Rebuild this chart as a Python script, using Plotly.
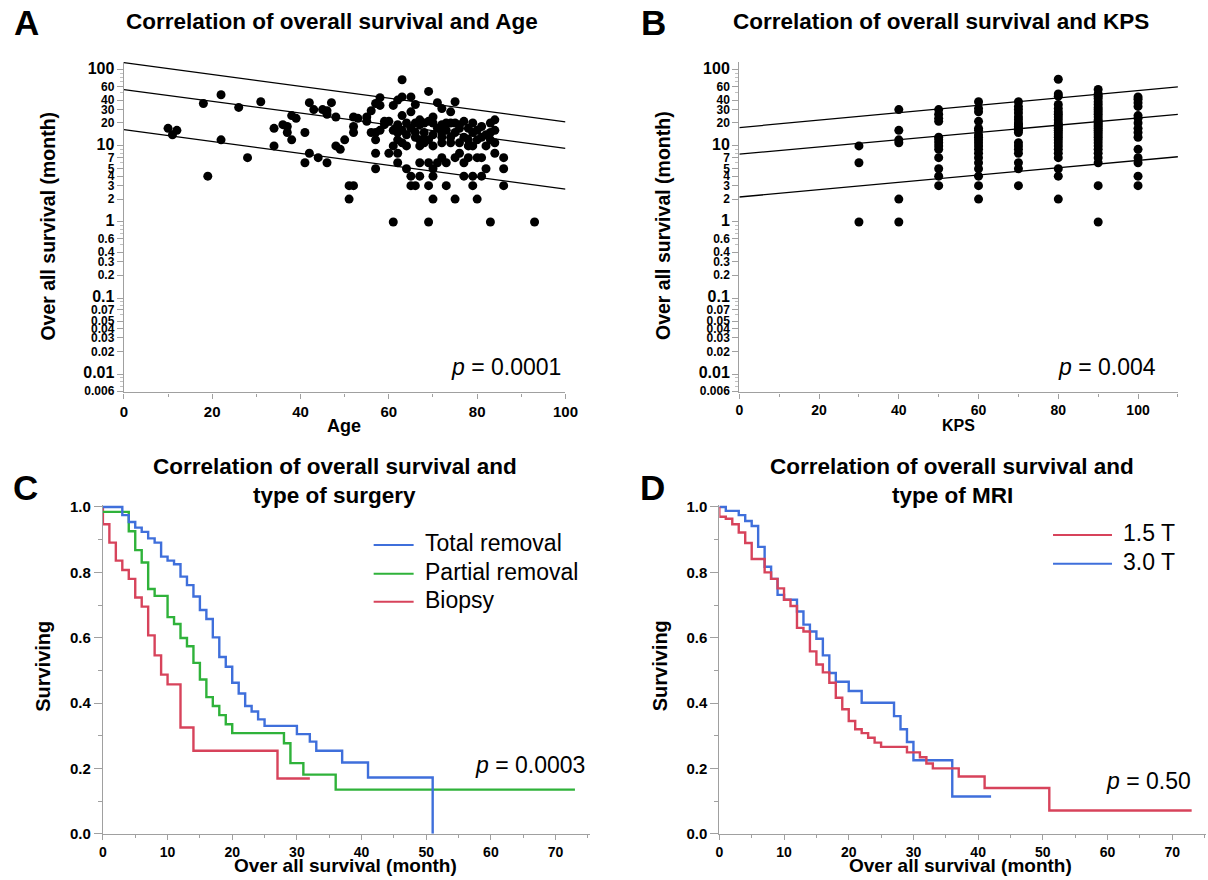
import plotly.graph_objects as go

# measured mapping between page pixels and the photographed picture
SHOT_SCALE = 0.987
SHOT_OFF = 3.0
W, H = 1222, 889
F = "Liberation Sans, Arial, sans-serif"

def page(t):
    return (t - SHOT_OFF) / SHOT_SCALE

def px(x):
    return page(x) / W

def py(y):
    return 1 - page(y) / H

# ---------------- Panel A data: Age vs overall survival ----------------
age_vals = [10, 11, 12, 18, 19, 22, 22, 26, 28, 31, 34, 34, 36, 37, 37, 38, 39, 38, 41, 41,
            42, 43, 42, 44, 45, 46, 46, 47, 46, 48, 48, 49, 50, 51, 51,
            52, 52, 52, 52, 53, 55, 55, 56, 56, 57, 57, 57, 57, 57, 58, 58, 58, 59, 59,
            60, 60, 61, 61, 61, 61, 62, 62, 62, 62, 62, 63, 63, 63, 63, 64, 64, 64,
            65, 65, 65, 65, 66, 66, 66, 66, 67, 67, 67, 67, 67, 68, 68, 68,
            69, 69, 69, 69, 69, 69, 70, 70, 70, 70, 70, 71, 71, 72, 72, 72, 72, 72,
            73, 73, 73, 74, 74, 74, 75, 75, 75, 75, 76, 76, 76, 77, 77, 77, 78, 78,
            79, 79, 79, 79, 80, 80, 80, 81, 81, 81, 82, 82, 83, 83, 83, 84, 84, 84,
            86, 86, 86, 93,
            65, 66, 68, 70, 71, 72, 73, 74, 76, 77, 78, 79, 80, 81, 82, 83, 84, 62, 63, 64,
            67, 70, 75, 78]
age_os = [17, 14, 16, 36, 4, 47, 12, 32, 7, 38, 17, 10, 19, 18, 15, 25, 23, 12, 15, 6,
          37, 30, 8, 7, 30, 29, 26, 37, 6, 24, 10, 9, 12, 3, 2,
          3, 24, 18, 15, 23, 24, 21, 29, 15, 36, 15, 12, 8, 5, 43, 34, 16, 21, 19,
          21, 8, 34, 16, 10, 1, 40, 19, 12, 8, 6, 74, 44, 25, 16, 10, 5, 20,
          44, 28, 4, 3, 35, 20, 15, 3, 19, 12, 10, 6, 4, 20, 15, 11,
          52, 21, 12, 6, 3, 1, 20, 10, 5, 4, 2, 37, 6, 31, 19, 15, 11, 7,
          16, 6, 3, 28, 20, 13, 38, 20, 7, 2, 17, 11, 8, 21, 6, 4, 12, 7,
          20, 10, 4, 3, 16, 7, 2, 13, 7, 4, 10, 5, 20, 15, 1, 22, 11, 8,
          7, 5, 3, 1,
          17, 13, 12, 14, 17, 13, 20, 11, 19, 13, 17, 15, 12, 18, 14, 12, 16, 15, 11, 14,
          22, 24, 15, 10]
age_fit_x = [0, 100]
age_fit_center = [55, 9.3]
age_fit_upper = [124, 20.7]
age_fit_lower = [16.4, 2.7]

# ---------------- Panel B data: KPS vs overall survival ----------------
kps_levels = [30, 40, 50, 60, 70, 80, 90, 100]
kps_os_30 = [10, 6, 1]
kps_os_40 = [30, 16, 12, 11, 2, 1]
kps_os_50 = [30, 26, 23, 21, 13, 12, 11, 10, 9, 7, 5, 4, 3]
kps_os_60 = [38, 31, 28, 21, 17, 16, 14, 13, 12, 11, 10, 9, 8, 7, 6, 5, 4, 3, 2]
kps_os_70 = [38, 33, 30, 27, 24, 22, 20, 19, 18, 17, 16, 15, 11, 10, 9, 8, 6, 5, 3]
kps_os_80 = [75, 48, 45, 35, 31, 28, 26, 24, 22, 20, 19, 18, 17, 16, 15, 14, 13, 12, 11,
             10, 9, 8, 7, 5, 4, 2]
kps_os_90 = [55, 48, 45, 42, 38, 35, 32, 30, 28, 26, 24, 22, 21, 20, 19, 18, 17, 16, 15,
             14, 13, 12, 11, 10, 9, 8, 7, 6, 3, 1]
kps_os_100 = [44, 41, 37, 33, 25, 23, 20, 17, 15, 13, 9, 7, 6, 4, 3]
kps_fit_x = [0, 110]
kps_fit_center = [7.8, 26]
kps_fit_upper = [17.4, 59.7]
kps_fit_lower = [2.13, 7.2]

# ---------------- Panel C data: KM by type of surgery ----------------
total_t = [0, 3, 4, 5, 6, 7, 8, 9, 10, 11, 12, 13, 14, 15, 16, 17, 18, 19, 20, 21, 22, 23,
           24, 25, 30, 32, 33, 37, 41, 51]
total_s = [1.0, 0.975, 0.954, 0.937, 0.924, 0.904, 0.891, 0.848, 0.836, 0.825, 0.787, 0.761,
           0.726, 0.685, 0.657, 0.601, 0.541, 0.511, 0.462, 0.429, 0.391, 0.374, 0.350, 0.330,
           0.305, 0.282, 0.254, 0.218, 0.172, 0.0]
partial_t = [0, 4, 5, 6, 7, 8, 10, 11, 12, 13, 14, 15, 16, 17, 18, 19, 20, 28, 29, 31, 36, 73]
partial_s = [0.985, 0.926, 0.868, 0.830, 0.749, 0.728, 0.663, 0.642, 0.599, 0.574, 0.523,
             0.472, 0.418, 0.391, 0.363, 0.335, 0.308, 0.277, 0.216, 0.181, 0.135, 0.135]
biopsy_t = [0, 0, 1, 2, 3, 4, 5, 6, 7, 8, 9, 10, 12, 14, 27, 32]
biopsy_s = [1.0, 0.947, 0.891, 0.836, 0.807, 0.78, 0.723, 0.695, 0.607, 0.546, 0.487, 0.457,
            0.325, 0.254, 0.169, 0.169]

# ---------------- Panel D data: KM by type of MRI ----------------
t15_t = [0, 0, 1, 2, 3, 4, 5, 7, 8, 9, 10, 11, 12, 13, 14, 15, 16, 17, 18, 19, 20, 21, 22,
         23, 24, 25, 29, 31, 32, 33, 37, 41, 51, 73]
t15_s = [1.0, 0.97, 0.964, 0.947, 0.922, 0.89, 0.841, 0.80, 0.78, 0.751, 0.716, 0.697, 0.63,
         0.619, 0.558, 0.518, 0.494, 0.462, 0.416, 0.381, 0.345, 0.32, 0.308, 0.294, 0.279,
         0.266, 0.249, 0.234, 0.215, 0.20, 0.175, 0.14, 0.071, 0.071]
t30_t = [0, 1, 3, 4, 5, 6, 7, 8, 9, 10, 12, 13, 14, 15, 16, 17, 18, 20, 22, 27, 28, 29, 30,
         36, 42]
t30_s = [1.0, 0.988, 0.975, 0.957, 0.942, 0.878, 0.817, 0.78, 0.731, 0.716, 0.68, 0.64,
         0.619, 0.597, 0.546, 0.492, 0.465, 0.437, 0.401, 0.36, 0.32, 0.281, 0.225, 0.114,
         0.114]

log_tick_vals = [100, 60, 40, 30, 20, 10, 7, 5, 4, 3, 2, 1, 0.6, 0.4, 0.3, 0.2, 0.1, 0.07,
                 0.05, 0.04, 0.03, 0.02, 0.01, 0.006]
log_tick_text = ["100", "60", "40", "30", "20", "10", "7", "5", "4", "3", "2", "1", "0.6",
                 "0.4", "0.3", "0.2", "0.1", "0.07", "0.05", "0.04", "0.03", "0.02", "0.01",
                 "0.006"]
log_major = ["100", "10", "1", "0.1", "0.01"]

BLUE = "#3f6fdb"
GREEN = "#2fb23a"
RED = "#d7435b"

# ---------------- figure ----------------
fig = go.Figure()

mk = dict(color="black", size=9)
fig.add_trace(go.Scatter(x=age_vals, y=age_os, mode="markers", marker=mk,
                         xaxis="x", yaxis="y", showlegend=False))
for fy in (age_fit_upper, age_fit_center, age_fit_lower):
    fig.add_trace(go.Scatter(x=age_fit_x, y=fy, mode="lines",
                             line=dict(color="black", width=1.3),
                             xaxis="x", yaxis="y", showlegend=False))

kps_lists = [kps_os_30, kps_os_40, kps_os_50, kps_os_60, kps_os_70, kps_os_80, kps_os_90,
             kps_os_100]
kx, ky = [], []
for lev, lst in zip(kps_levels, kps_lists):
    kx += [lev] * len(lst)
    ky += lst
fig.add_trace(go.Scatter(x=kx, y=ky, mode="markers", marker=mk,
                         xaxis="x2", yaxis="y2", showlegend=False))
for fy in (kps_fit_upper, kps_fit_center, kps_fit_lower):
    fig.add_trace(go.Scatter(x=kps_fit_x, y=fy, mode="lines",
                             line=dict(color="black", width=1.3),
                             xaxis="x2", yaxis="y2", showlegend=False))

for t, s, c, nm in ((biopsy_t, biopsy_s, RED, "Biopsy"),
                    (partial_t, partial_s, GREEN, "Partial removal"),
                    (total_t, total_s, BLUE, "Total removal")):
    fig.add_trace(go.Scatter(x=t, y=s, mode="lines", line=dict(color=c, width=2.4, shape="hv"),
                             name=nm, xaxis="x3", yaxis="y3", showlegend=False))

for t, s, c, nm in ((t30_t, t30_s, BLUE, "3.0 T"), (t15_t, t15_s, RED, "1.5 T")):
    fig.add_trace(go.Scatter(x=t, y=s, mode="lines", line=dict(color=c, width=2.4, shape="hv"),
                             name=nm, xaxis="x4", yaxis="y4", showlegend=False))

AX = "#a0a0a0"

def xax(dom, rng, tickvals, minor_dtick, size, anchor):
    return dict(domain=dom, range=rng, anchor=anchor, tickvals=tickvals,
                ticks="outside", ticklen=5, tickcolor=AX, showline=True, linecolor=AX,
                linewidth=1.2, showgrid=False, zeroline=False,
                tickfont=dict(family=F, size=size, color="black", weight="bold"),
                minor=dict(dtick=minor_dtick, ticks="outside", ticklen=3, tickcolor=AX,
                           showgrid=False))

minor_log = []
for dec in (0.001, 0.01, 0.1, 1, 10, 100):
    for m in range(1, 10):
        v = round(m * dec, 6)
        if 0.0058 <= v <= 126:
            minor_log.append(v)

ytext = [("<span style='font-size:16px'>%s</span>" % t) if t in log_major else t
         for t in log_tick_text]

def ylog(dom, anchor):
    return dict(domain=dom, type="log", range=[-2.24, 2.105], anchor=anchor,
                tickvals=log_tick_vals, ticktext=ytext, ticks="outside", ticklen=6,
                tickcolor=AX, showline=True, linecolor=AX, linewidth=1.2, showgrid=False,
                zeroline=False,
                tickfont=dict(family=F, size=12, color="black", weight="bold"),
                minor=dict(tickvals=minor_log, ticks="outside", ticklen=3, tickcolor="#c0c0c0",
                           showgrid=False))

def ylin(dom, anchor):
    return dict(domain=dom, range=[0, 1.006], anchor=anchor, tickvals=[0, 0.2, 0.4, 0.6, 0.8, 1.0],
                tickformat=".1f", ticks="outside", ticklen=8, tickcolor=AX, showline=True,
                linecolor=AX, linewidth=1.2, showgrid=False, zeroline=False,
                tickfont=dict(family=F, size=15, color="black", weight="bold"),
                minor=dict(dtick=0.1, ticks="outside", ticklen=4, tickcolor=AX, showgrid=False))

ydomAB = [py(390), py(58)]
ydomCD = [py(833), py(503)]

fig.update_layout(
    width=W, height=H, margin=dict(l=0, r=0, t=0, b=0),
    paper_bgcolor="white", plot_bgcolor="white", showlegend=False,
    font=dict(family=F, color="black"),
    xaxis=xax([px(123), px(565)], [0, 100], [0, 20, 40, 60, 80, 100], 10, 15, "y"),
    yaxis=ylog(ydomAB, "x"),
    xaxis2=xax([px(739), px(1178)], [0, 110], [0, 20, 40, 60, 80, 100], 10, 14, "y2"),
    yaxis2=ylog(ydomAB, "x2"),
    xaxis3=xax([px(102), px(590)], [0, 75.4], [0, 10, 20, 30, 40, 50, 60, 70], 5, 14, "y3"),
    yaxis3=ylin(ydomCD, "x3"),
    xaxis4=xax([px(719), px(1206)], [0, 75.2], [0, 10, 20, 30, 40, 50, 60, 70], 5, 14, "y4"),
    yaxis4=ylin(ydomCD, "x4"),
)

ann = []

def A(x, y, text, size, bold=False, xanchor="center", angle=0):
    ann.append(dict(x=px(x), y=py(y - 1.5), xref="paper", yref="paper", text=text,
                    showarrow=False, xanchor=xanchor, yanchor="middle", textangle=angle,
                    font=dict(family=F, size=size, color="black",
                              weight="bold" if bold else "normal")))

# panel letters
A(26, 20, "A", 35, True)
A(653, 20, "B", 35, True)
A(25, 487, "C", 35, True)
A(652, 487, "D", 35, True)
# titles
A(331, 19, "Correlation of overall survival and Age", 22.5, True)
A(941, 19, "Correlation of overall survival and KPS", 22.5, True)
A(334, 466, "Correlation of overall survival and", 22.5, True)
A(334, 495, "type of surgery", 22.5, True)
A(952, 466, "Correlation of overall survival and", 22.5, True)
A(952, 495, "type of MRI", 22.5, True)
# axis titles
A(47, 224, "Over all survival (month)", 19.5, True, angle=-90)
A(662, 224, "Over all survival (month)", 19.5, True, angle=-90)
A(42, 666, "Surviving", 20, True, angle=-90)
A(660, 666, "Surviving", 20, True, angle=-90)
A(343, 425, "Age", 18, True)
A(958, 425, "KPS", 16, True)
A(345, 866, "Over all survival (month)", 19, True)
A(960, 866, "Over all survival (month)", 19, True)
# p values
A(563, 366, "<i>p</i> = 0.0001", 23, xanchor="right")
A(1158, 366, "<i>p</i> = 0.004", 23, xanchor="right")
A(587, 765, "<i>p</i> = 0.0003", 23, xanchor="right")
A(1193, 782, "<i>p</i> = 0.50", 23, xanchor="right")

# legends (manual)
shapes = []
def leg(x0, x1, y, color, text):
    shapes.append(dict(type="line", xref="paper", yref="paper", x0=px(x0), x1=px(x1),
                       y0=py(y), y1=py(y), line=dict(color=color, width=2)))
    A(x1 + 9, y, text, 23, xanchor="left")

leg(373, 413, 543, BLUE, "Total removal")
leg(373, 413, 572, GREEN, "Partial removal")
leg(373, 413, 600, RED, "Biopsy")
leg(1053, 1112, 533, RED, "1.5 T")
leg(1053, 1112, 562, BLUE, "3.0 T")

fig.update_layout(annotations=ann, shapes=shapes)

page_css = ("document.body.style.margin='0';document.body.style.overflow='hidden';"
            "document.documentElement.style.overflow='hidden';")
fig.write_html("out.html", post_script=page_css, config={"displayModeBar": False})
